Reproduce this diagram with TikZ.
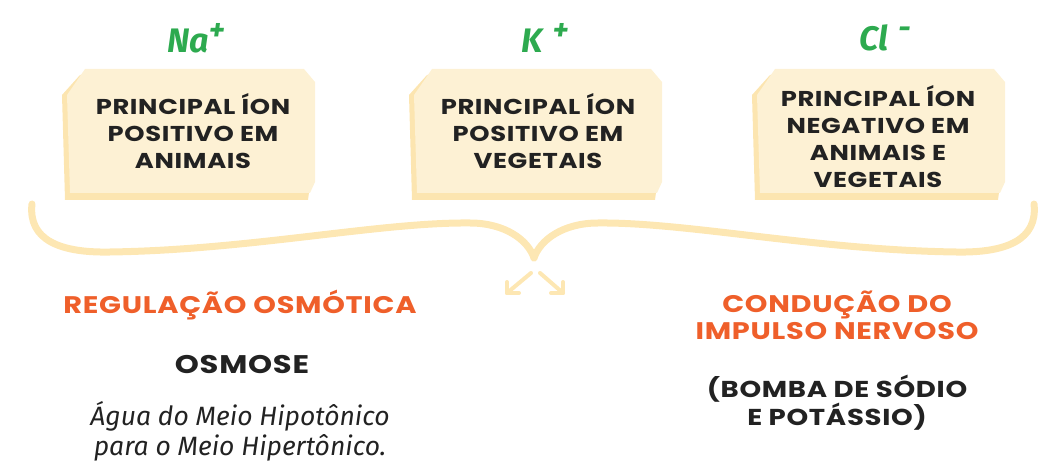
\documentclass[tikz,border=0pt]{standalone}
\usepackage{fontspec}
\newfontfamily\comic{Poppins}[FakeStretch=1.2, LetterSpace=3]
\newfontfamily\hand{Fira Sans}
\definecolor{boxfill}{HTML}{FDF1D4}
\definecolor{boxshade}{HTML}{FCE5B0}
\definecolor{bracecol}{HTML}{FDE7B3}
\definecolor{iongreen}{HTML}{2DAA4F}
\definecolor{headorange}{HTML}{EF5F2A}
\definecolor{ink}{HTML}{222222}
\begin{document}
\begin{tikzpicture}[x=1pt,y=-1pt,
  boxtext/.style={font=\comic\bfseries\fontsize{21.5}{27}\selectfont, text=ink, align=center},
  iontext/.style={font=\hand\bfseries\itshape\fontsize{34}{36}\selectfont, text=iongreen, inner sep=0pt},
  headtext/.style={font=\comic\bfseries\fontsize{24}{27}\selectfont, text=headorange, align=center},
  subtext/.style={font=\comic\bfseries\fontsize{23}{27}\selectfont, text=ink, align=center},
  handtext/.style={font=\hand\itshape\fontsize{26.5}{30}\selectfont, text=ink, align=center},
  bracestyle/.style={draw=bracecol, line width=7pt, line cap=round},
  arrowstyle/.style={draw=bracecol, line width=4pt, line cap=round, line join=round}
]
\useasboundingbox (0,0) rectangle (1045,465);
% boxes: shadow then main
\newcommand{\ionbox}[1]{%
  \fill[boxshade] (#1-5+18,69+6) -- (#1-5+237,69+6) -- (#1-5+248,82+6) -- (#1-5+248,185) -- (#1+243-2,200) -- (#1-2,200) -- (#1-5,95) -- cycle;
  \fill[boxfill] (#1+18,69) -- (#1+237,69) -- (#1+248,82) -- (#1+248,182) -- (#1+243,193) -- (#1+3,193) -- (#1,95) -- cycle;
}
\ionbox{67}
\ionbox{414}
\ionbox{757}

\node[iontext] (na) at (196,38) {Na\raisebox{0.35em}{\fontsize{31}{31}\selectfont +}};
\node[iontext] (k) at (545,38) {K\hspace{0.3em}\raisebox{0.35em}{\fontsize{31}{31}\selectfont +}};
\node[iontext] (cl) at (885,38) {Cl\hspace{0.3em}\raisebox{0.35em}{\fontsize{31}{31}\selectfont -}};

\node[boxtext] (b1) at (193,131) {PRINCIPAL ÍON\\POSITIVO EM\\ANIMAIS};
\node[boxtext] (b2) at (538,131) {PRINCIPAL ÍON\\POSITIVO EM\\VEGETAIS};
\node[boxtext] (b3) at (878,137) {PRINCIPAL ÍON\\NEGATIVO EM\\ANIMAIS E\\VEGETAIS};

% brace
\coordinate (tip) at (534,258);
\coordinate (lend) at (32,204);
\coordinate (rend) at (1034,204);
\draw[bracestyle] (lend) .. controls (28,240) and (60,253) .. (110,252)
   .. controls (250,250) and (380,222) .. (470,223)
   .. controls (505,223) and (528,240) .. (tip);
\draw[bracestyle] (rend) .. controls (1038,240) and (1006,253) .. (956,252)
   .. controls (816,250) and (686,222) .. (598,223)
   .. controls (563,223) and (540,240) .. (tip);

% arrows
\coordinate (as) at (531,273);
\coordinate (bs) at (540,273);
\coordinate (ae) at (507,293);
\coordinate (be) at (563,293);
\draw[arrowstyle] (as) -- (ae);
\draw[arrowstyle] (ae) -- ++(0,-11) (ae) -- ++(12,0);
\draw[arrowstyle] (bs) -- (be);
\draw[arrowstyle] (be) -- ++(0,-11) (be) -- ++(-12,0);

\node[headtext] (reg) at (240,305) {REGULAÇÃO OSMÓTICA};
\node[subtext, font=\comic\bfseries\fontsize{25.5}{27}\selectfont] (osm) at (242,365) {OSMOSE};
\node[handtext] (agua) at (240,431) {Água do Meio Hipotônico\\para o Meio Hipertônico.};

\node[headtext] (cond) at (837,315) {CONDUÇÃO DO\\IMPULSO NERVOSO};
\node[subtext] (bomba) at (837,403) {(BOMBA DE SÓDIO\\E POTÁSSIO)};
\end{tikzpicture}
\end{document}
